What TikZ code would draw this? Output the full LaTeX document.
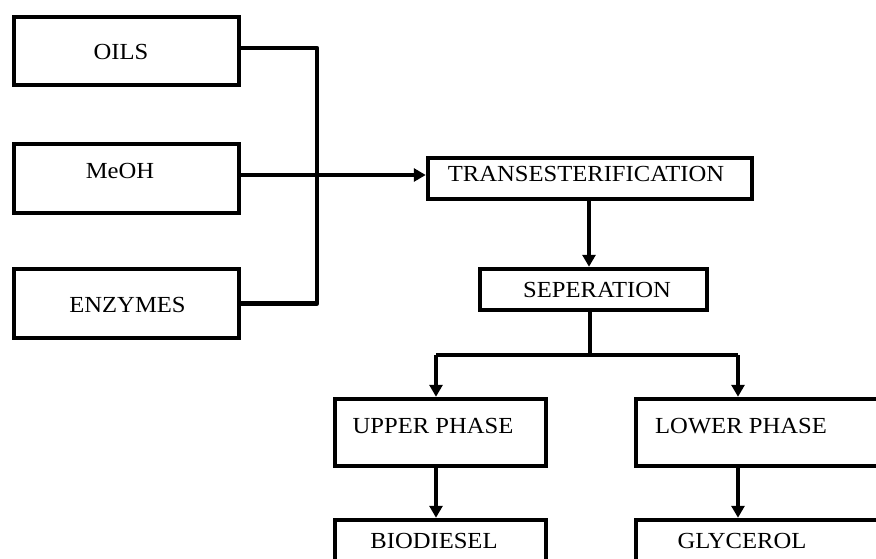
\documentclass[tikz,border=0pt]{standalone}
\usepackage{fontspec}
\usepackage{graphicx}
\setmainfont{Liberation Serif}
\usetikzlibrary{arrows.meta}
\newcommand{\wtxt}[1]{\scalebox{1.07}[1]{#1}}
\begin{document}
\begin{tikzpicture}[x=1pt,y=-1pt,
  box/.style={draw=black,line width=4.5pt,fill=white,inner sep=0pt,minimum width=#1},
  lbl/.style={inner sep=0pt,font=\fontsize{23}{27}\selectfont},
  wire/.style={line width=4.5pt,line join=round},
  arr/.style={wire,-{Triangle[length=12pt,width=13pt]}}]
\useasboundingbox (0,0) rectangle (876,559);
\clip (0,0) rectangle (876,559);
% boxes
\node[box=225pt,minimum height=68pt] (oils) at (126.5,51) {};
\node[box=225pt,minimum height=69pt] (meoh) at (126.5,178.5) {};
\node[box=225pt,minimum height=69pt] (enz) at (126.5,303.5) {};
\node[box=324pt,minimum height=41pt] (trans) at (590,178.5) {};
\node[box=227pt,minimum height=41pt] (sep) at (593.5,289.5) {};
\node[box=211pt,minimum height=67pt] (upper) at (440.5,432.5) {};
\node[box=260pt,minimum height=67pt] (lower) at (766,432.5) {};
\node[box=211pt,minimum height=80pt] (bio) at (440.5,560) {};
\node[box=260pt,minimum height=80pt] (gly) at (766,560) {};
% texts
\node[lbl] (toils) at (121,52) {\wtxt{OILS}};
\node[lbl] (tmeoh) at (120,171) {\wtxt{MeOH}};
\node[lbl] (tenz) at (127.5,305) {\wtxt{ENZYMES}};
\node[lbl] (ttrans) at (586,174) {\wtxt{TRANSESTERIFICATION}};
\node[lbl] (tsep) at (597,290) {\wtxt{SEPERATION}};
\node[lbl] (tupper) at (433,426) {\wtxt{UPPER PHASE}};
\node[lbl] (tlower) at (741,426) {\wtxt{LOWER PHASE}};
\node[lbl] (tbio) at (434,541) {\wtxt{BIODIESEL}};
\node[lbl] (tgly) at (742,541) {\wtxt{GLYCEROL}};
% connectors
\coordinate (oo) at ([yshift=3pt]oils.east);
\coordinate (mo) at ([yshift=3.5pt]meoh.east);
\coordinate (bus) at (317,0);
\coordinate (tx) at (589,0);
\coordinate (split) at (590,355);
\coordinate (ul) at (436,355);
\coordinate (lr) at (738,355);
\draw[wire] (oo) -- (oo -| bus) -- (bus |- enz.east) -- (enz.east);
\draw[arr] (mo) -- (mo -| trans.west);
\draw[arr] (trans.south -| tx) -- (sep.north -| tx);
\draw[wire] (sep.south -| split) -- (split);
\draw[wire] (ul) -- (lr);
\draw[arr] (ul) -- (ul |- upper.north);
\draw[arr] (lr) -- (lr |- lower.north);
\draw[arr] (upper.south -| ul) -- (bio.north -| ul);
\draw[arr] (lower.south -| lr) -- (gly.north -| lr);
\end{tikzpicture}
\end{document}
